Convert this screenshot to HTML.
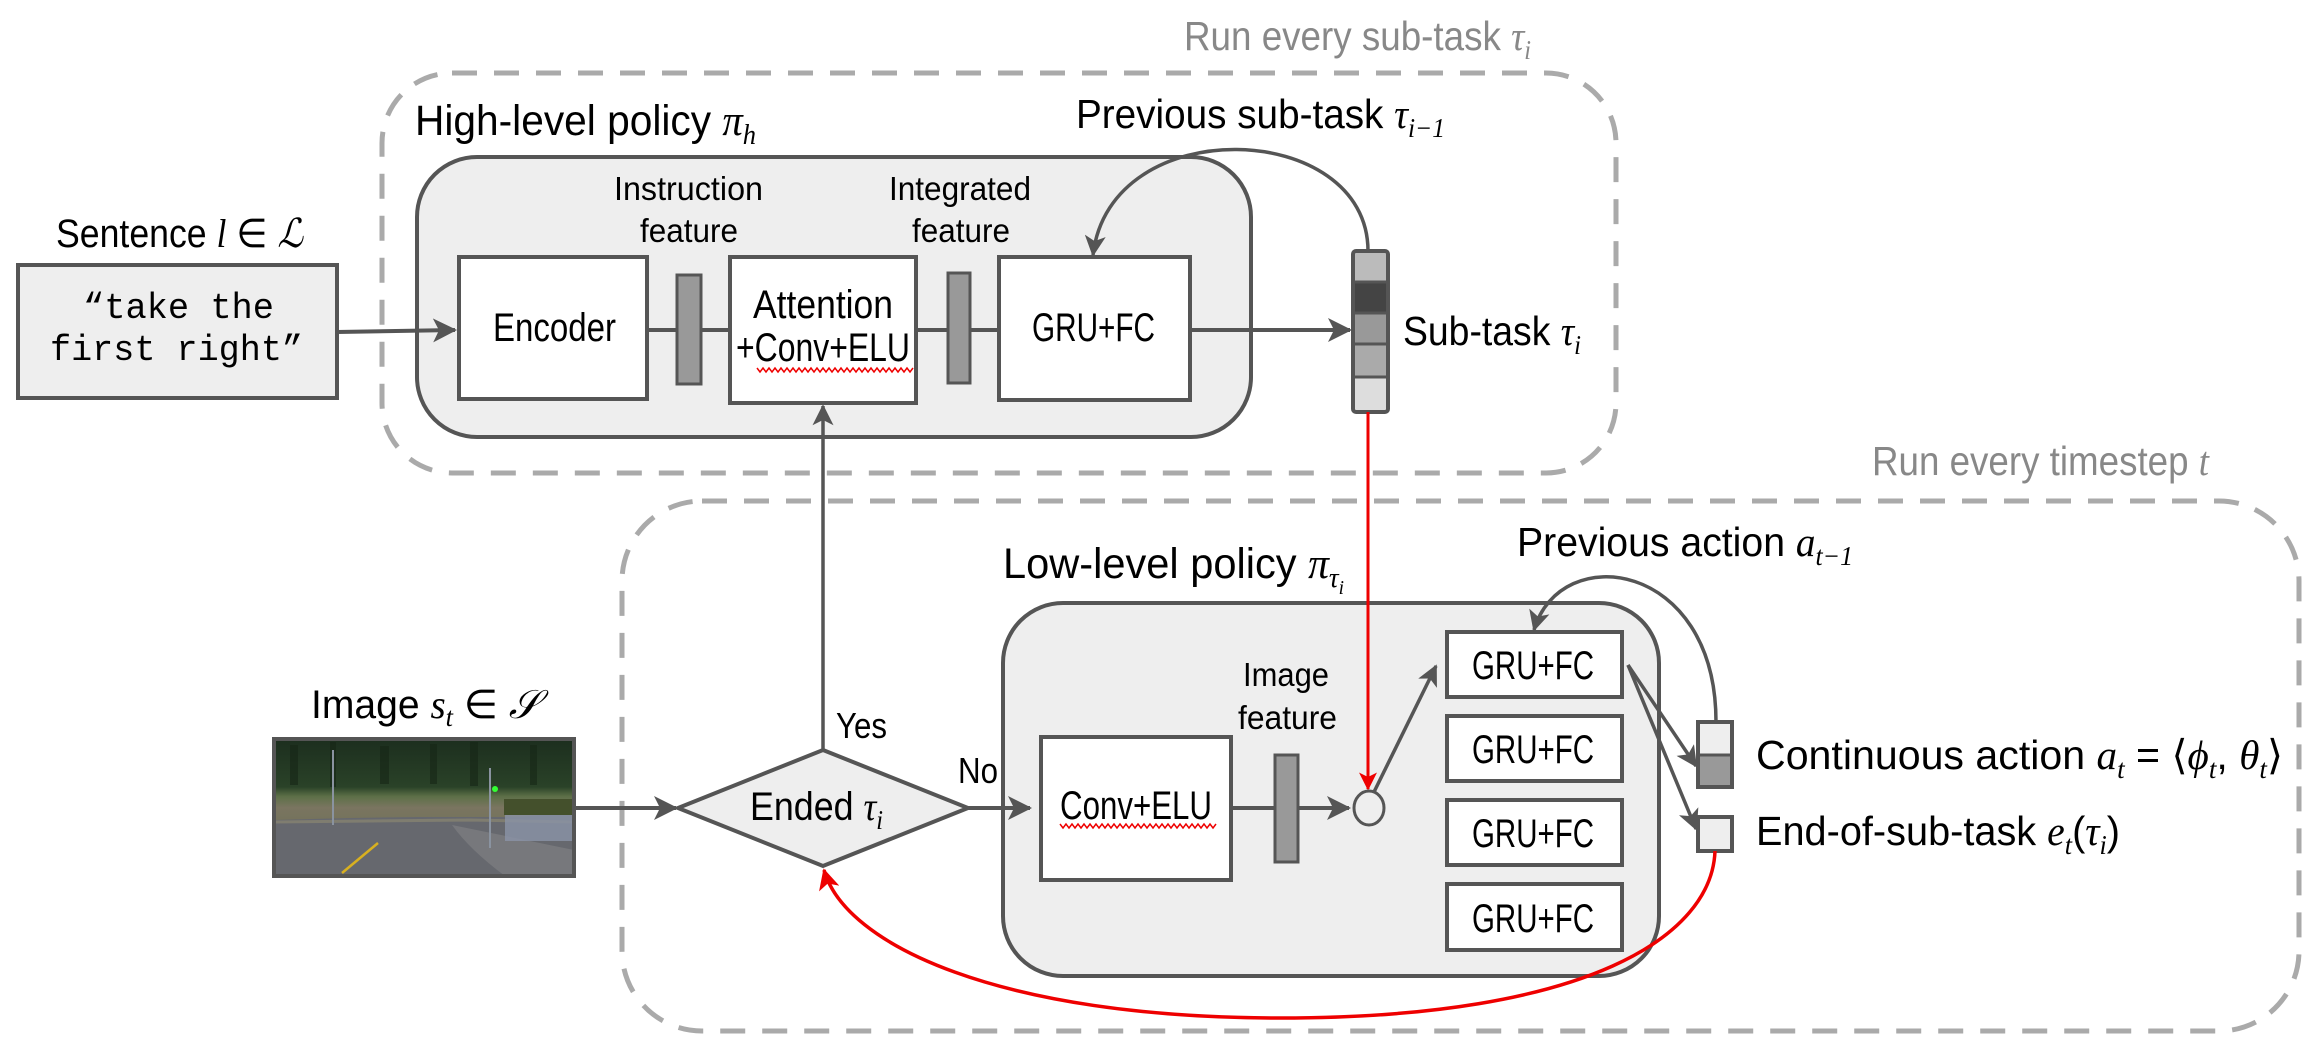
<!DOCTYPE html>
<html><head><meta charset="utf-8"><style>
html,body{margin:0;padding:0;background:#fff;}
svg{display:block;}
text{font-family:"Liberation Sans",sans-serif;fill:#000;}
.m{font-family:"Liberation Serif",serif;font-style:italic;}
</style></head><body>
<svg width="2316" height="1046" viewBox="0 0 2316 1046" xmlns="http://www.w3.org/2000/svg">
<defs>
<marker id="ar" viewBox="0 0 12 12" refX="11" refY="6" markerWidth="6" markerHeight="6" markerUnits="strokeWidth" orient="auto">
<path d="M0,0 L12,6 L0,12 L3,6 z" fill="#555"/></marker>
<marker id="arr" viewBox="0 0 12 12" refX="11" refY="6" markerWidth="6" markerHeight="6" markerUnits="strokeWidth" orient="auto">
<path d="M0,0 L12,6 L0,12 L3,6 z" fill="#e00"/></marker>
<linearGradient id="sky" x1="0" y1="0" x2="0" y2="1">
<stop offset="0" stop-color="#1c2e1e"/><stop offset="0.35" stop-color="#2a4228"/><stop offset="0.42" stop-color="#5d7048"/><stop offset="0.5" stop-color="#7a7560"/><stop offset="0.72" stop-color="#6e7058"/><stop offset="0.76" stop-color="#6f7380"/><stop offset="1" stop-color="#6a6c73"/></linearGradient>
</defs>

<rect x="382" y="73" width="1234" height="400" rx="70" fill="none" stroke="#aaa" stroke-width="5" stroke-dasharray="25 17"/>
<rect x="622" y="501" width="1677" height="530" rx="80" fill="none" stroke="#aaa" stroke-width="5" stroke-dasharray="25 17"/>

<text x="1184" y="50" font-size="41" style="fill:#888" textLength="347" lengthAdjust="spacingAndGlyphs">Run every sub-task <tspan class="m" style="fill:#888">τ</tspan><tspan class="m" font-size="27" dy="9" style="fill:#888">i</tspan></text>
<text x="1872" y="475" font-size="41" style="fill:#888" textLength="337" lengthAdjust="spacingAndGlyphs">Run every timestep <tspan class="m" style="fill:#888">t</tspan></text>

<rect x="417" y="157" width="834" height="280" rx="60" fill="#eee" stroke="#555" stroke-width="4"/>
<text x="415" y="135" font-size="43" textLength="341" lengthAdjust="spacingAndGlyphs">High-level policy <tspan class="m">π</tspan><tspan class="m" font-size="28" dy="9">h</tspan></text>

<text x="56" y="247" font-size="40" textLength="247" lengthAdjust="spacingAndGlyphs">Sentence <tspan class="m">l</tspan> ∈ <tspan class="m">ℒ</tspan></text>
<rect x="18" y="265" width="319" height="133" fill="#eee" stroke="#555" stroke-width="4"/>
<text x="83" y="318" font-size="36" style="font-family:'Liberation Mono',monospace" textLength="191" lengthAdjust="spacingAndGlyphs">“take the</text>
<text x="50" y="360" font-size="36" style="font-family:'Liberation Mono',monospace" textLength="253" lengthAdjust="spacingAndGlyphs">first right”</text>
<line x1="337" y1="332" x2="455" y2="330" stroke="#555" stroke-width="4" marker-end="url(#ar)"/>

<text x="614" y="200" font-size="33" textLength="149" lengthAdjust="spacingAndGlyphs">Instruction</text>
<text x="640" y="242" font-size="33" textLength="98" lengthAdjust="spacingAndGlyphs">feature</text>
<text x="889" y="200" font-size="33" textLength="142" lengthAdjust="spacingAndGlyphs">Integrated</text>
<text x="912" y="242" font-size="33" textLength="98" lengthAdjust="spacingAndGlyphs">feature</text>

<line x1="647" y1="330" x2="1000" y2="330" stroke="#555" stroke-width="4"/>
<rect x="459" y="257" width="188" height="142" fill="#fff" stroke="#555" stroke-width="4"/>
<text x="493" y="341" font-size="40" textLength="123" lengthAdjust="spacingAndGlyphs">Encoder</text>
<rect x="677" y="275" width="24" height="109" fill="#999" stroke="#555" stroke-width="3"/>
<rect x="730" y="257" width="186" height="146" fill="#fff" stroke="#555" stroke-width="4"/>
<text x="753" y="318" font-size="40" textLength="140" lengthAdjust="spacingAndGlyphs">Attention</text>
<text x="736" y="361" font-size="40" textLength="174" lengthAdjust="spacingAndGlyphs">+Conv+ELU</text>
<polyline points="757,368 760,372 763,368 766,372 769,368 772,372 775,368 778,372 781,368 784,372 787,368 790,372 793,368 796,372 799,368 802,372 805,368 808,372 811,368 814,372 817,368 820,372 823,368 826,372 829,368 832,372 835,368 838,372 841,368 844,372 847,368 850,372 853,368 856,372 859,368 862,372 865,368 868,372 871,368 874,372 877,368 880,372 883,368 886,372 889,368 892,372 895,368 898,372 901,368 904,372 907,368 910,372 913,368" fill="none" stroke="#e00" stroke-width="1.5"/>
<rect x="948" y="273" width="22" height="110" fill="#999" stroke="#555" stroke-width="3"/>
<rect x="999" y="257" width="191" height="143" fill="#fff" stroke="#555" stroke-width="4"/>
<text x="1032" y="341" font-size="40" textLength="123" lengthAdjust="spacingAndGlyphs">GRU+FC</text>
<line x1="1190" y1="330" x2="1350" y2="330" stroke="#555" stroke-width="4" marker-end="url(#ar)"/>

<path d="M1368,251 C1368,120 1110,110 1093,255" fill="none" stroke="#555" stroke-width="3.5" marker-end="url(#ar)"/>
<text x="1076" y="128" font-size="41" textLength="369" lengthAdjust="spacingAndGlyphs">Previous sub-task <tspan class="m">τ</tspan><tspan class="m" font-size="27" dy="9">i−1</tspan></text>

<rect x="1353" y="251" width="35" height="31" fill="#bbb"/>
<rect x="1353" y="282" width="35" height="31" fill="#444"/>
<rect x="1353" y="313" width="35" height="31" fill="#999"/>
<rect x="1353" y="344" width="35" height="33" fill="#aaa"/>
<rect x="1353" y="377" width="35" height="35" fill="#ddd"/>
<g stroke="#555" stroke-width="3"><line x1="1353" y1="282" x2="1388" y2="282"/><line x1="1353" y1="313" x2="1388" y2="313"/><line x1="1353" y1="344" x2="1388" y2="344"/><line x1="1353" y1="377" x2="1388" y2="377"/></g>
<rect x="1353" y="251" width="35" height="161" rx="3" fill="none" stroke="#555" stroke-width="4"/>
<text x="1403" y="345" font-size="41" textLength="178" lengthAdjust="spacingAndGlyphs">Sub-task <tspan class="m">τ</tspan><tspan class="m" font-size="27" dy="9">i</tspan></text>

<rect x="1003" y="603" width="656" height="373" rx="60" fill="#eee" stroke="#555" stroke-width="4"/>
<text x="1003" y="578" font-size="43" textLength="341" lengthAdjust="spacingAndGlyphs">Low-level policy <tspan class="m">π</tspan><tspan class="m" font-size="28" dy="9">τ</tspan><tspan class="m" font-size="20" dy="7">i</tspan></text>

<line x1="1368" y1="412" x2="1368" y2="789" stroke="#e00" stroke-width="3" marker-end="url(#arr)"/>
<line x1="823" y1="750" x2="823" y2="406" stroke="#555" stroke-width="3.5" marker-end="url(#ar)"/>

<text x="311" y="718" font-size="40" textLength="228" lengthAdjust="spacingAndGlyphs">Image <tspan class="m">s</tspan><tspan class="m" font-size="27" dy="8">t</tspan><tspan dy="-8"> ∈ </tspan><tspan class="m">𝒮</tspan></text>
<rect x="274" y="739" width="300" height="137" fill="url(#sky)"/>
<g fill="#162616" opacity="0.6"><rect x="290" y="745" width="8" height="40"/><rect x="330" y="742" width="6" height="45"/><rect x="380" y="746" width="9" height="38"/><rect x="430" y="744" width="7" height="40"/><rect x="470" y="742" width="8" height="44"/><rect x="530" y="745" width="7" height="40"/></g>
<path d="M274,820 L350,818 L420,817 L520,817 L574,812 L574,876 L274,876 z" fill="#66686e"/>
<path d="M274,822 L470,820 L574,822" fill="none" stroke="#7f7d70" stroke-width="3"/>
<path d="M452,825 Q470,850 505,876 L574,876 L574,850 Z" fill="#77787c"/>
<rect x="505" y="815" width="69" height="26" fill="#8b93a8" opacity="0.8"/>
<rect x="504" y="799" width="70" height="16" fill="#44502c"/>
<line x1="333" y1="750" x2="333" y2="825" stroke="#8a93a0" stroke-width="2"/>
<line x1="490" y1="768" x2="490" y2="848" stroke="#8a93a0" stroke-width="2"/>
<circle cx="495" cy="789" r="3" fill="#3f3"/>
<line x1="342" y1="873" x2="378" y2="843" stroke="#d8b020" stroke-width="2.5"/>
<rect x="274" y="739" width="300" height="137" fill="none" stroke="#555" stroke-width="4"/>
<line x1="574" y1="808" x2="676" y2="808" stroke="#555" stroke-width="4" marker-end="url(#ar)"/>

<polygon points="823,750 968,808 823,866 678,808" fill="#eee" stroke="#555" stroke-width="4"/>
<text x="750" y="820" font-size="40" textLength="133" lengthAdjust="spacingAndGlyphs">Ended <tspan class="m">τ</tspan><tspan class="m" font-size="27" dy="9">i</tspan></text>
<text x="836" y="738" font-size="36" textLength="51" lengthAdjust="spacingAndGlyphs">Yes</text>
<text x="958" y="783" font-size="36" textLength="40" lengthAdjust="spacingAndGlyphs">No</text>
<line x1="968" y1="808" x2="1030" y2="808" stroke="#555" stroke-width="4" marker-end="url(#ar)"/>

<line x1="1231" y1="808" x2="1349" y2="808" stroke="#555" stroke-width="4" marker-end="url(#ar)"/>
<rect x="1041" y="737" width="190" height="143" fill="#fff" stroke="#555" stroke-width="4"/>
<text x="1060" y="819" font-size="40" textLength="152" lengthAdjust="spacingAndGlyphs">Conv+ELU</text>
<polyline points="1060,824 1063,828 1066,824 1069,828 1072,824 1075,828 1078,824 1081,828 1084,824 1087,828 1090,824 1093,828 1096,824 1099,828 1102,824 1105,828 1108,824 1111,828 1114,824 1117,828 1120,824 1123,828 1126,824 1129,828 1132,824 1135,828 1138,824 1141,828 1144,824 1147,828 1150,824 1153,828 1156,824 1159,828 1162,824 1165,828 1168,824 1171,828 1174,824 1177,828 1180,824 1183,828 1186,824 1189,828 1192,824 1195,828 1198,824 1201,828 1204,824 1207,828 1210,824 1213,828 1216,824" fill="none" stroke="#e00" stroke-width="1.5"/>
<rect x="1275" y="755" width="23" height="107" fill="#999" stroke="#555" stroke-width="3"/>
<text x="1243" y="686" font-size="33" textLength="86" lengthAdjust="spacingAndGlyphs">Image</text>
<text x="1238" y="729" font-size="33" textLength="99" lengthAdjust="spacingAndGlyphs">feature</text>
<ellipse cx="1369" cy="808" rx="15" ry="17" fill="#eee" stroke="#555" stroke-width="3"/>
<line x1="1374" y1="792" x2="1436" y2="666" stroke="#555" stroke-width="3.5" marker-end="url(#ar)"/>

<g fill="#fff" stroke="#555" stroke-width="4">
<rect x="1447" y="632" width="175" height="65"/>
<rect x="1447" y="716" width="175" height="65"/>
<rect x="1447" y="800" width="175" height="65"/>
<rect x="1447" y="884" width="175" height="66"/>
</g>
<text x="1472" y="679" font-size="40" textLength="122" lengthAdjust="spacingAndGlyphs">GRU+FC</text>
<text x="1472" y="763" font-size="40" textLength="122" lengthAdjust="spacingAndGlyphs">GRU+FC</text>
<text x="1472" y="847" font-size="40" textLength="122" lengthAdjust="spacingAndGlyphs">GRU+FC</text>
<text x="1472" y="932" font-size="40" textLength="122" lengthAdjust="spacingAndGlyphs">GRU+FC</text>

<line x1="1628" y1="665" x2="1696" y2="766" stroke="#555" stroke-width="3.5" marker-end="url(#ar)"/>
<line x1="1628" y1="665" x2="1696" y2="829" stroke="#555" stroke-width="3.5" marker-end="url(#ar)"/>

<rect x="1698" y="722" width="34" height="33" fill="#eee"/>
<rect x="1698" y="755" width="34" height="32" fill="#999"/>
<line x1="1698" y1="755" x2="1732" y2="755" stroke="#555" stroke-width="3"/>
<rect x="1698" y="722" width="34" height="65" fill="none" stroke="#555" stroke-width="4"/>
<rect x="1698" y="817" width="34" height="34" fill="#eee" stroke="#555" stroke-width="4"/>

<path d="M1716,722 C1716,560 1560,540 1534,630" fill="none" stroke="#555" stroke-width="3.5" marker-end="url(#ar)"/>
<text x="1517" y="556" font-size="41" textLength="336" lengthAdjust="spacingAndGlyphs">Previous action <tspan class="m">a</tspan><tspan class="m" font-size="27" dy="9">t−1</tspan></text>

<text x="1756" y="769" font-size="41" textLength="527" lengthAdjust="spacingAndGlyphs">Continuous action <tspan class="m">a</tspan><tspan class="m" font-size="27" dy="9">t</tspan><tspan dy="-9"> = ⟨</tspan><tspan class="m">ϕ</tspan><tspan class="m" font-size="27" dy="9">t</tspan><tspan dy="-9">, </tspan><tspan class="m">θ</tspan><tspan class="m" font-size="27" dy="9">t</tspan><tspan dy="-9">⟩</tspan></text>
<text x="1756" y="845" font-size="41" textLength="364" lengthAdjust="spacingAndGlyphs">End-of-sub-task <tspan class="m">e</tspan><tspan class="m" font-size="27" dy="9">t</tspan><tspan dy="-9">(</tspan><tspan class="m">τ</tspan><tspan class="m" font-size="27" dy="9">i</tspan><tspan dy="-9">)</tspan></text>

<path d="M1715,851 C1712,935 1590,1018 1280,1018 C1000,1018 845,945 824,870" fill="none" stroke="#e00" stroke-width="3.5" marker-end="url(#arr)"/>
</svg>
</body></html>
